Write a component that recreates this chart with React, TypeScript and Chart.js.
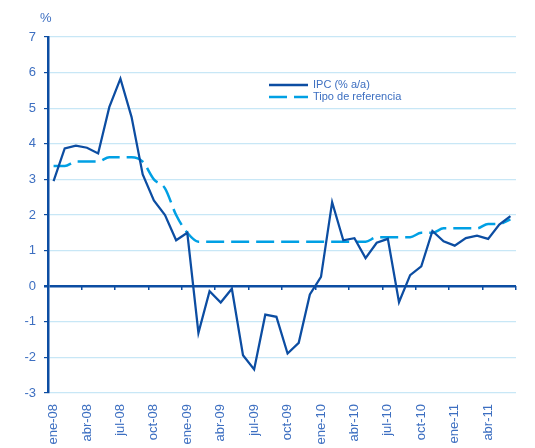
import React, { useEffect, useRef } from 'react';
import { Chart, registerables } from 'chart.js';

Chart.register(...registerables);

const categories = [
  'ene-08', 'feb-08', 'mar-08', 'abr-08', 'may-08', 'jun-08', 'jul-08', 'ago-08', 'sep-08', 'oct-08', 'nov-08', 'dic-08',
  'ene-09', 'feb-09', 'mar-09', 'abr-09', 'may-09', 'jun-09', 'jul-09', 'ago-09', 'sep-09', 'oct-09', 'nov-09', 'dic-09',
  'ene-10', 'feb-10', 'mar-10', 'abr-10', 'may-10', 'jun-10', 'jul-10', 'ago-10', 'sep-10', 'oct-10', 'nov-10', 'dic-10',
  'ene-11', 'feb-11', 'mar-11', 'abr-11', 'may-11', 'jun-11',
];

const ipcLabel = 'IPC (% a/a)';
const ipc = [
  2.95, 3.87, 3.95, 3.89, 3.73, 5.03, 5.83, 4.75, 3.14, 2.41, 2.0, 1.29,
  1.5, -1.31, -0.14, -0.46, -0.07, -1.94, -2.34, -0.8, -0.86, -1.89, -1.59, -0.23,
  0.26, 2.36, 1.29, 1.35, 0.79, 1.22, 1.33, -0.45, 0.31, 0.56, 1.55, 1.26,
  1.14, 1.35, 1.42, 1.33, 1.73, 1.97,
];

const tipoLabel = 'Tipo de referencia';
const tipo = [
  3.375, 3.375, 3.5, 3.5, 3.5, 3.625, 3.625, 3.625, 3.5, 3.0, 2.75, 2.0,
  1.5, 1.25, 1.25, 1.25, 1.25, 1.25, 1.25, 1.25, 1.25, 1.25, 1.25, 1.25,
  1.25, 1.25, 1.25, 1.25, 1.25, 1.375, 1.375, 1.375, 1.375, 1.5, 1.5, 1.625,
  1.625, 1.625, 1.625, 1.75, 1.75, 1.875,
];

const yMin = -3;
const yMax = 7;
const unitLabel = '%';

const DARK = '#0c4da2';
const LIGHT = '#00a0e4';
const GRID = '#c8e7f6';
const TEXT = '#3d6fc1';
const FONT = '"Liberation Sans", Arial, sans-serif';

const overlayPlugin = {
  id: 'overlay',
  afterDraw(chart: any) {
    const ctx = chart.ctx as CanvasRenderingContext2D;
    ctx.save();
    ctx.fillStyle = TEXT;
    ctx.textAlign = 'left';
    ctx.textBaseline = 'middle';
    ctx.font = `13px ${FONT}`;
    ctx.fillText(unitLabel, 40, 18);

    const x0 = 269;
    const x1 = 308;
    const rows = [
      { y: 85, label: ipcLabel, color: DARK, dash: [] as number[] },
      { y: 97, label: tipoLabel, color: LIGHT, dash: [18, 7] },
    ];
    ctx.font = `11px ${FONT}`;
    for (const r of rows) {
      ctx.beginPath();
      ctx.setLineDash(r.dash);
      ctx.strokeStyle = r.color;
      ctx.lineWidth = 2.5;
      ctx.moveTo(x0, r.y);
      ctx.lineTo(x1, r.y);
      ctx.stroke();
      ctx.setLineDash([]);
      ctx.fillStyle = TEXT;
      ctx.fillText(r.label, 313, r.y);
    }
    ctx.restore();
  },
};

export default function App() {
  const ref = useRef<HTMLCanvasElement>(null);

  useEffect(() => {
    const chart = new Chart(ref.current as HTMLCanvasElement, {
      type: 'line',
      data: {
        labels: categories,
        datasets: [
          {
            label: ipcLabel,
            data: ipc,
            borderColor: DARK,
            borderWidth: 2.25,
            pointRadius: 0,
            tension: 0,
            fill: false,
          },
          {
            label: tipoLabel,
            data: tipo,
            borderColor: LIGHT,
            borderWidth: 2.5,
            borderDash: [18, 7],
            pointRadius: 0,
            cubicInterpolationMode: 'monotone',
            fill: false,
          },
        ],
      },
      options: {
        responsive: false,
        animation: false,
        devicePixelRatio: 1,
        layout: { padding: { top: 37, right: 19, left: 0, bottom: 0 } },
        plugins: {
          legend: { display: false },
          tooltip: { enabled: false },
        },
        scales: {
          x: {
            type: 'category',
            position: 'bottom',
            offset: true,
            grid: { display: false, drawTicks: false },
            border: { display: false },
            afterFit: (s: any) => {
              s.height = 55;
              s.paddingLeft = 0;
              s.paddingRight = 0;
            },
            ticks: {
              autoSkip: false,
              minRotation: 90,
              maxRotation: 90,
              padding: 11,
              color: TEXT,
              font: { family: FONT, size: 13 },
              callback: (_v: any, i: number) => (i % 3 === 0 ? categories[i] : ''),
            },
          },
          x2: {
            type: 'category',
            axis: 'x',
            position: { y: 0 } as any,
            offset: true,
            ticks: { display: false },
            border: { display: false },
            grid: {
              offset: true,
              drawOnChartArea: false,
              drawTicks: true,
              tickLength: 4,
              lineWidth: 1.5,
              color: (c: any) =>
                c.index === undefined || c.index % 3 === 0 ? DARK : 'rgba(0,0,0,0)',
            },
          },
          y: {
            min: yMin,
            max: yMax,
            afterFit: (s: any) => {
              s.width = 48;
            },
            ticks: {
              stepSize: 1,
              padding: 8,
              color: TEXT,
              font: { family: FONT, size: 13 },
            },
            border: { display: true, color: DARK, width: 2.5 },
            grid: {
              color: (c: any) => (c.tick && c.tick.value === 0 ? DARK : GRID),
              lineWidth: (c: any) => (c.tick && c.tick.value === 0 ? 2.5 : 1.2),
              tickColor: DARK,
              tickLength: 4,
            },
          },
        },
      } as any,
      plugins: [overlayPlugin],
    });
    return () => chart.destroy();
  }, []);

  return (
    <div style={{ position: 'fixed', left: 0, top: 0, width: 535, height: 448, background: '#fff' }}>
      <canvas ref={ref} width={535} height={448} style={{ width: 535, height: 448, display: 'block' }} />
    </div>
  );
}
